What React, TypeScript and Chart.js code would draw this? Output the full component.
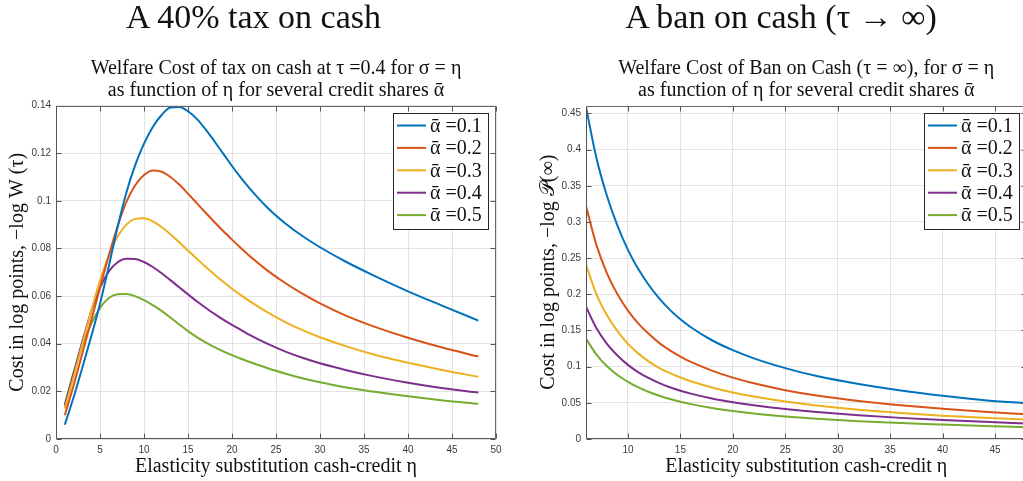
import React, { useEffect, useRef } from "react";
import { Chart, registerables } from "chart.js";

Chart.register(...registerables);

// ---------- data ----------
const SERIES_LABELS = ["ᾱ =0.1", "ᾱ =0.2", "ᾱ =0.3", "ᾱ =0.4", "ᾱ =0.5"];
const SERIES_COLORS = ["#0072BD", "#D95319", "#EDB120", "#7E2F8E", "#77AC30"];

// Left panel: 40% tax on cash (x = eta)
const TAX_ETA = [1, 2, 3, 4, 5, 6, 7, 8, 9, 10, 11, 12, 13, 14, 15, 16, 17, 18, 19, 20, 21, 22, 24, 26, 28, 30, 33, 36, 40, 44, 48];
const TAX_A1 = [0.0060, 0.0175, 0.0300, 0.0430, 0.0568, 0.0725, 0.0890, 0.1035, 0.1150, 0.1240, 0.1310, 0.1360, 0.1392, 0.1394, 0.1376, 0.1344, 0.1300, 0.1250, 0.1198, 0.1146, 0.1097, 0.1052, 0.0972, 0.0907, 0.0852, 0.0805, 0.0743, 0.0688, 0.0620, 0.0558, 0.0497];
const TAX_A2 = [0.0100, 0.0225, 0.0360, 0.0497, 0.0635, 0.0770, 0.0893, 0.0995, 0.1065, 0.1108, 0.1127, 0.1122, 0.1100, 0.1068, 0.1030, 0.0990, 0.0950, 0.0911, 0.0873, 0.0837, 0.0802, 0.0768, 0.0708, 0.0656, 0.0610, 0.0569, 0.0517, 0.0474, 0.0425, 0.0383, 0.0346];
const TAX_A3 = [0.0128, 0.0262, 0.0400, 0.0537, 0.0665, 0.0770, 0.0850, 0.0900, 0.0924, 0.0927, 0.0914, 0.0890, 0.0860, 0.0826, 0.0791, 0.0757, 0.0723, 0.0691, 0.0660, 0.0631, 0.0604, 0.0579, 0.0533, 0.0492, 0.0457, 0.0427, 0.0389, 0.0356, 0.0320, 0.0289, 0.0261];
const TAX_A4 = [0.0140, 0.0275, 0.0410, 0.0535, 0.0635, 0.0703, 0.0742, 0.0757, 0.0756, 0.0743, 0.0722, 0.0696, 0.0667, 0.0637, 0.0607, 0.0578, 0.0551, 0.0525, 0.0501, 0.0479, 0.0458, 0.0437, 0.0400, 0.0368, 0.0341, 0.0318, 0.0289, 0.0264, 0.0236, 0.0213, 0.0195];
const TAX_A5 = [0.0145, 0.0280, 0.0393, 0.0483, 0.0550, 0.0592, 0.0608, 0.0609, 0.0600, 0.0583, 0.0562, 0.0538, 0.0510, 0.0481, 0.0453, 0.0428, 0.0406, 0.0386, 0.0368, 0.0352, 0.0337, 0.0323, 0.0298, 0.0275, 0.0255, 0.0238, 0.0216, 0.0199, 0.0179, 0.0162, 0.0148];

// Right panel: ban on cash (x = eta)
const BAN_ETA = [6, 7, 8, 9, 10, 11, 12, 13, 14, 15, 16, 18, 20, 22, 25, 28, 32, 36, 40, 44, 48];
const BAN_A1 = [0.459, 0.388, 0.336, 0.295, 0.2615, 0.2345, 0.2125, 0.194, 0.1785, 0.1655, 0.1545, 0.1365, 0.1228, 0.1115, 0.098, 0.087, 0.076, 0.067, 0.0597, 0.0537, 0.0494];
const BAN_A2 = [0.322, 0.268, 0.229, 0.200, 0.1775, 0.1595, 0.145, 0.1325, 0.1225, 0.114, 0.1065, 0.0945, 0.0848, 0.077, 0.0675, 0.060, 0.0525, 0.0466, 0.0418, 0.0378, 0.0342];
const BAN_A3 = [0.241, 0.200, 0.171, 0.149, 0.1315, 0.118, 0.107, 0.098, 0.091, 0.085, 0.0798, 0.0712, 0.0643, 0.0587, 0.0518, 0.0463, 0.0405, 0.036, 0.0323, 0.0293, 0.0268];
const BAN_A4 = [0.183, 0.153, 0.1315, 0.1155, 0.1025, 0.0922, 0.084, 0.0772, 0.0716, 0.0668, 0.0627, 0.056, 0.0508, 0.0466, 0.0414, 0.0372, 0.0327, 0.0292, 0.0263, 0.0238, 0.0215];
const BAN_A5 = [0.1388, 0.1165, 0.1005, 0.0885, 0.079, 0.0713, 0.065, 0.0598, 0.0553, 0.0515, 0.0482, 0.0428, 0.0386, 0.0352, 0.0312, 0.028, 0.0246, 0.022, 0.0199, 0.018, 0.0162];

const TAX_X_TICKS = [0, 5, 10, 15, 20, 25, 30, 35, 40, 45, 50];
const TAX_Y_TICKS = [0, 0.02, 0.04, 0.06, 0.08, 0.1, 0.12, 0.14];
const BAN_X_TICKS = [10, 15, 20, 25, 30, 35, 40, 45];
const BAN_Y_TICKS = [0, 0.05, 0.1, 0.15, 0.2, 0.25, 0.3, 0.35, 0.4, 0.45];

const TAX_TITLE = "A 40% tax on cash";
const BAN_TITLE = "A ban on cash (τ → ∞)";
const TAX_SUBTITLE = ["Welfare Cost of tax on cash at τ =0.4 for σ = η", "as function of η for several credit shares ᾱ"];
const BAN_SUBTITLE = ["Welfare Cost of Ban on Cash (τ = ∞), for σ = η", "as function of η for several credit shares ᾱ"];
const X_TITLE = "Elasticity substitution cash-credit η";
const TAX_Y_TITLE = "Cost in log points, −log W (τ)";
const BAN_Y_TITLE = "Cost in log points, −log 𝒫(∞)";

const SERIF = '"Liberation Serif", "DejaVu Serif", serif';
const SANS = '"Liberation Sans", Arial, sans-serif';
const TEXT_SIZE = 20;

// ---------- plugin: box, inward ticks, legend ----------
const frameLegendPlugin = {
  id: "frameLegend",
  afterDatasetsDraw(chart: any) {
    const { ctx, chartArea: a, scales } = chart;
    const xs = scales.x;
    const ys = scales.y;
    ctx.save();
    ctx.lineWidth = 1;
    ctx.strokeStyle = "#555555";
    const seg = (x1: number, y1: number, x2: number, y2: number) => {
      ctx.beginPath();
      ctx.moveTo(x1, y1);
      ctx.lineTo(x2, y2);
      ctx.stroke();
    };
    const L = Math.round(a.left) + 0.5;
    const R = Math.round(a.right) - 0.5;
    const T = Math.round(a.top) + 0.5;
    const B = Math.round(a.bottom) - 0.5;
    xs.ticks.forEach((t: any) => {
      const px = Math.round(xs.getPixelForValue(t.value)) + 0.5;
      if (px < L - 1 || px > R + 1) return;
      seg(px, B, px, B - 5);
      seg(px, T, px, T + 5);
    });
    ys.ticks.forEach((t: any) => {
      const py = Math.round(ys.getPixelForValue(t.value)) + 0.5;
      seg(L, py, L + 5, py);
      seg(R, py, R - 5, py);
    });
    ctx.strokeStyle = "#666666";
    seg(L, T, R, T);
    seg(R, T, R, B);
    ctx.strokeStyle = "#555555";
    seg(L, B, R, B);
    seg(L, T, L, B);

    // legend
    const lw = 95;
    const lh = 116;
    const lx = Math.round(a.right - 8 - lw);
    const ly = Math.round(a.top + 7.5);
    ctx.fillStyle = "#ffffff";
    ctx.fillRect(lx, ly, lw, lh);
    ctx.strokeStyle = "#262626";
    ctx.strokeRect(lx + 0.5, ly + 0.5, lw, lh);
    ctx.font = `${TEXT_SIZE}px ${SERIF}`;
    ctx.textBaseline = "middle";
    ctx.textAlign = "left";
    chart.data.datasets.forEach((ds: any, i: number) => {
      const cy = ly + 12.5 + i * 22.4;
      ctx.strokeStyle = ds.borderColor;
      ctx.lineWidth = 2;
      seg(lx + 4, cy, lx + 33, cy);
      ctx.fillStyle = "#111111";
      ctx.fillText(ds.label, lx + 37, cy + 1);
    });
    ctx.restore();
  },
};

function makeConfig(
  eta: number[],
  series: number[][],
  xMin: number,
  xMax: number,
  yMax: number,
  xTicks: number[],
  yTicks: number[],
  subtitle: string[],
  yTitle: string,
  padLeft: number,
  padRight: number,
  yWidth: number
): any {
  const fmt = (v: any) => String(+Number(v).toFixed(4));
  return {
    type: "line",
    data: {
      datasets: series.map((ys, i) => ({
        label: SERIES_LABELS[i],
        data: eta.map((x, j) => ({ x, y: ys[j] })),
        borderColor: SERIES_COLORS[i],
        backgroundColor: SERIES_COLORS[i],
        borderWidth: 2,
        pointRadius: 0,
        cubicInterpolationMode: "monotone",
        fill: false,
      })),
    },
    options: {
      responsive: false,
      animation: false,
      devicePixelRatio: 1,
      layout: { padding: { top: 58, left: padLeft, right: padRight, bottom: 0 } },
      plugins: {
        legend: { display: false },
        tooltip: { enabled: false },
        title: {
          display: true,
          text: subtitle,
          fullSize: false,
          color: "#111111",
          font: { family: SERIF, size: TEXT_SIZE, weight: "normal", lineHeight: "21.5px" },
          padding: { top: 0, bottom: 4.5 },
        },
      },
      scales: {
        x: {
          type: "linear",
          min: xMin,
          max: xMax,
          afterFit: (s: any) => {
            s.height = 42;
          },
          afterBuildTicks: (s: any) => {
            s.ticks = xTicks.map((v) => ({ value: v }));
          },
          grid: { color: "#e3e3e3", drawTicks: false, lineWidth: 1 },
          border: { display: false },
          ticks: {
            font: { family: SANS, size: 10 },
            color: "#3a3a3a",
            padding: 5,
            maxRotation: 0,
            autoSkip: false,
            callback: fmt,
          },
          title: {
            display: true,
            text: X_TITLE,
            color: "#111111",
            font: { family: SERIF, size: TEXT_SIZE, lineHeight: 1.1 },
            padding: { top: 0, bottom: 3 },
          },
        },
        y: {
          type: "linear",
          min: 0,
          max: yMax,
          afterFit: (s: any) => {
            s.width = yWidth;
          },
          afterBuildTicks: (s: any) => {
            s.ticks = yTicks.map((v) => ({ value: v }));
          },
          grid: { color: "#e3e3e3", drawTicks: false, lineWidth: 1 },
          border: { display: false },
          ticks: {
            font: { family: SANS, size: 10 },
            color: "#3a3a3a",
            padding: 5,
            autoSkip: false,
            callback: fmt,
          },
          title: {
            display: true,
            text: yTitle,
            color: "#111111",
            font: { family: SERIF, size: TEXT_SIZE, lineHeight: 1.1 },
            padding: { top: 7, bottom: 0 },
          },
        },
      },
    },
    plugins: [frameLegendPlugin],
  };
}

export default function App() {
  const leftRef = useRef<HTMLCanvasElement | null>(null);
  const rightRef = useRef<HTMLCanvasElement | null>(null);

  useEffect(() => {
    document.body.style.margin = "0";
    const c1 = new Chart(
      leftRef.current as HTMLCanvasElement,
      makeConfig(
        TAX_ETA,
        [TAX_A1, TAX_A2, TAX_A3, TAX_A4, TAX_A5],
        0,
        50,
        0.14,
        TAX_X_TICKS,
        TAX_Y_TICKS,
        TAX_SUBTITLE,
        TAX_Y_TITLE,
        0,
        16,
        56
      )
    );
    const c2 = new Chart(
      rightRef.current as HTMLCanvasElement,
      makeConfig(
        BAN_ETA,
        [BAN_A1, BAN_A2, BAN_A3, BAN_A4, BAN_A5],
        6,
        48,
        0.461,
        BAN_X_TICKS,
        BAN_Y_TICKS,
        BAN_SUBTITLE,
        BAN_Y_TITLE,
        19,
        5.5,
        55
      )
    );
    return () => {
      c1.destroy();
      c2.destroy();
    };
  }, []);

  const bigTitle: React.CSSProperties = {
    position: "absolute",
    top: 0,
    margin: 0,
    fontFamily: SERIF,
    fontSize: "34px",
    lineHeight: "33px",
    fontWeight: "normal",
    color: "#111",
    textAlign: "center",
    whiteSpace: "nowrap",
  };

  return (
    <div style={{ position: "relative", width: 1023, height: 481, overflow: "hidden", background: "#fff" }}>
      <canvas ref={leftRef} width={512} height={481} style={{ position: "absolute", left: 0, top: 0 }} />
      <canvas ref={rightRef} width={520} height={481} style={{ position: "absolute", left: 512, top: 0 }} />
      <div style={{ ...bigTitle, left: 0, width: 507 }}>{TAX_TITLE}</div>
      <div style={{ ...bigTitle, left: 512, width: 538 }}>{BAN_TITLE}</div>
    </div>
  );
}
